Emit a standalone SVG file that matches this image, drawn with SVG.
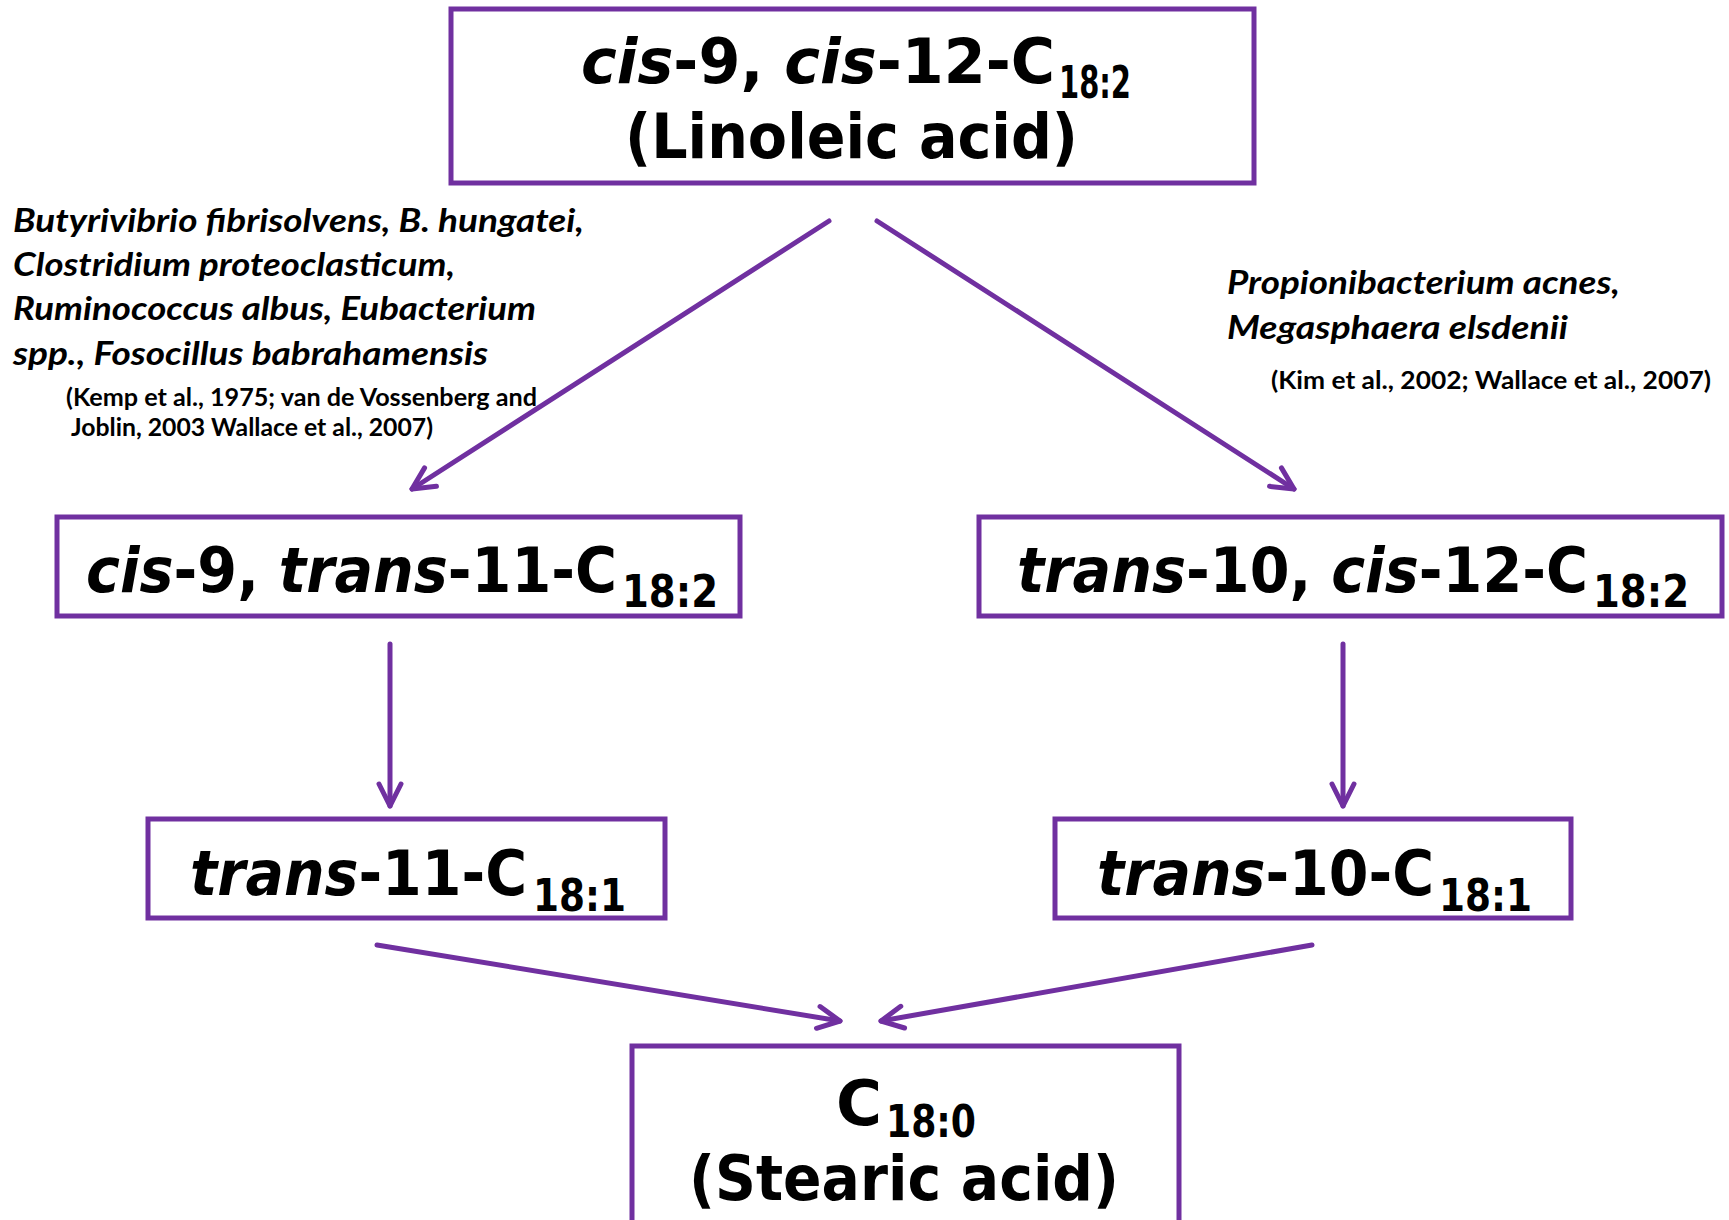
<svg xmlns="http://www.w3.org/2000/svg" width="1729" height="1220" viewBox="0 0 1729 1220">
<defs>
<style>
.box{fill:#fff;stroke:#7030A0;stroke-width:5}
.lbl{font-family:"DejaVu Sans","Liberation Sans",sans-serif;font-weight:bold;fill:#000}
.it{font-style:italic}
.sp{font-family:Lato,"Open Sans","Liberation Sans",sans-serif;font-weight:bold;font-style:italic;font-size:33px;fill:#000}
.ref{font-family:Lato,"Open Sans","Liberation Sans",sans-serif;font-weight:bold;font-size:24px;fill:#000}
.conn line{stroke:#7030A0;stroke-width:5;stroke-linecap:round}
</style>
<marker id="ah" markerUnits="userSpaceOnUse" viewBox="-28 -16 32 32" refX="0" refY="0" markerWidth="32" markerHeight="32" orient="auto">
<path d="M-22,-11 L0,0 L-22,11" fill="none" stroke="#7030A0" stroke-width="5" stroke-linecap="round" stroke-linejoin="round"/>
</marker>
</defs>
<rect width="1729" height="1220" fill="#fff"/>

<g class="conn" id="connectors">
<line x1="829" y1="221" x2="412" y2="489" marker-end="url(#ah)"/>
<line x1="877" y1="221" x2="1294" y2="489" marker-end="url(#ah)"/>
<line x1="390" y1="644" x2="390" y2="806" marker-end="url(#ah)"/>
<line x1="1343" y1="644" x2="1343" y2="806" marker-end="url(#ah)"/>
<line x1="377" y1="945" x2="840" y2="1021" marker-end="url(#ah)"/>
<line x1="1312" y1="945" x2="881" y2="1021" marker-end="url(#ah)"/>
</g>

<g id="linoleic">
<rect class="box" x="451" y="9" width="803" height="174"/>
<text class="lbl" x="581" y="83" font-size="62" textLength="474" lengthAdjust="spacingAndGlyphs"><tspan class="it">cis</tspan>-9, <tspan class="it">cis</tspan>-12-C</text>
<text class="lbl" x="1059" y="98" font-size="44" textLength="72" lengthAdjust="spacingAndGlyphs">18:2</text>
<text class="lbl" x="625" y="158" font-size="62" textLength="453" lengthAdjust="spacingAndGlyphs">(Linoleic acid)</text>
</g>

<g id="bacteria-left">
<text class="sp" x="13" y="232" textLength="571" lengthAdjust="spacingAndGlyphs">Butyrivibrio fibrisolvens, B. hungatei,</text>
<text class="sp" x="13" y="276" textLength="442" lengthAdjust="spacingAndGlyphs">Clostridium proteoclasticum,</text>
<text class="sp" x="13" y="320" textLength="523" lengthAdjust="spacingAndGlyphs">Ruminococcus albus, Eubacterium</text>
<text class="sp" x="13" y="365" textLength="475" lengthAdjust="spacingAndGlyphs">spp., Fosocillus babrahamensis</text>
<text class="ref" x="66" y="406" textLength="471" lengthAdjust="spacingAndGlyphs">(Kemp et al., 1975; van de Vossenberg and</text>
<text class="ref" x="71" y="436" textLength="362" lengthAdjust="spacingAndGlyphs">Joblin, 2003 Wallace et al., 2007)</text>
</g>

<g id="bacteria-right">
<text class="sp" x="1227" y="294" textLength="393" lengthAdjust="spacingAndGlyphs">Propionibacterium acnes,</text>
<text class="sp" x="1227" y="339" textLength="341" lengthAdjust="spacingAndGlyphs">Megasphaera elsdenii</text>
<text class="ref" x="1271" y="389" textLength="440" lengthAdjust="spacingAndGlyphs">(Kim et al., 2002; Wallace et al., 2007)</text>
</g>

<g id="c9t11">
<rect class="box" x="57" y="517" width="683" height="99"/>
<text class="lbl" x="86" y="592" font-size="62" textLength="531" lengthAdjust="spacingAndGlyphs"><tspan class="it">cis</tspan>-9, <tspan class="it">trans</tspan>-11-C</text>
<text class="lbl" x="622" y="607" font-size="44" textLength="96" lengthAdjust="spacingAndGlyphs">18:2</text>
</g>

<g id="t10c12">
<rect class="box" x="979" y="517" width="743" height="99"/>
<text class="lbl" x="1017" y="592" font-size="62" textLength="571" lengthAdjust="spacingAndGlyphs"><tspan class="it">trans</tspan>-10, <tspan class="it">cis</tspan>-12-C</text>
<text class="lbl" x="1593" y="607" font-size="44" textLength="96" lengthAdjust="spacingAndGlyphs">18:2</text>
</g>

<g id="t11">
<rect class="box" x="148" y="819" width="517" height="99"/>
<text class="lbl" x="190" y="895" font-size="62" textLength="337" lengthAdjust="spacingAndGlyphs"><tspan class="it">trans</tspan>-11-C</text>
<text class="lbl" x="533" y="911" font-size="44" textLength="93" lengthAdjust="spacingAndGlyphs">18:1</text>
</g>

<g id="t10">
<rect class="box" x="1055" y="819" width="516" height="99"/>
<text class="lbl" x="1097" y="895" font-size="62" textLength="337" lengthAdjust="spacingAndGlyphs"><tspan class="it">trans</tspan>-10-C</text>
<text class="lbl" x="1439" y="911" font-size="44" textLength="93" lengthAdjust="spacingAndGlyphs">18:1</text>
</g>

<g id="stearic">
<rect class="box" x="632" y="1046" width="547" height="200"/>
<text class="lbl" x="836" y="1125" font-size="62" textLength="46" lengthAdjust="spacingAndGlyphs">C</text>
<text class="lbl" x="886" y="1137" font-size="44" textLength="90" lengthAdjust="spacingAndGlyphs">18:0</text>
<text class="lbl" x="689" y="1200" font-size="62" textLength="430" lengthAdjust="spacingAndGlyphs">(Stearic acid)</text>
</g>
</svg>
